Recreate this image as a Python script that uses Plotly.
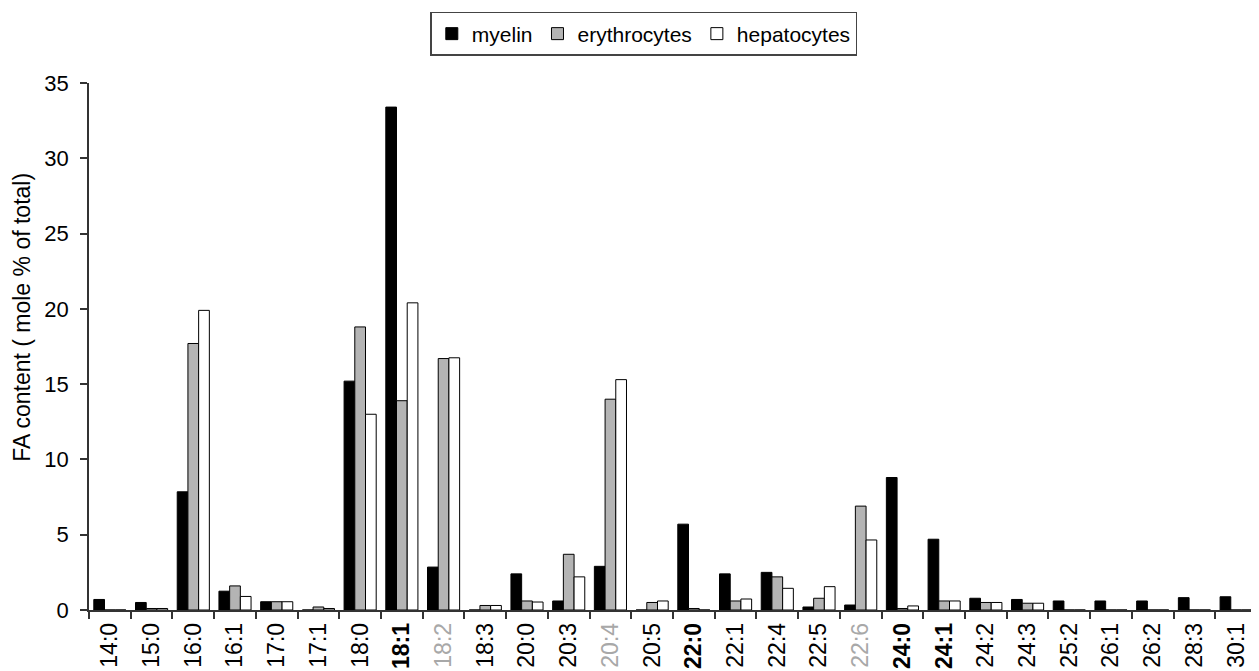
import plotly.graph_objects as go

categories = ["14:0", "15:0", "16:0", "16:1", "17:0", "17:1", "18:0", "18:1", "18:2", "18:3",
              "20:0", "20:3", "20:4", "20:5", "22:0", "22:1", "22:4", "22:5", "22:6", "24:0",
              "24:1", "24:2", "24:3", "25:2", "26:1", "26:2", "28:3", "30:1"]
myelin = [0.7, 0.5, 7.85, 1.25, 0.55, 0.0, 15.2, 33.4, 2.85, 0.0,
          2.4, 0.6, 2.9, 0.0, 5.7, 2.4, 2.5, 0.2, 0.33, 8.8,
          4.7, 0.78, 0.7, 0.6, 0.6, 0.6, 0.82, 0.88]
erythrocytes = [0.0, 0.1, 17.7, 1.6, 0.55, 0.2, 18.8, 13.9, 16.7, 0.3,
                0.6, 3.7, 14.0, 0.5, 0.1, 0.6, 2.2, 0.78, 6.9, 0.1,
                0.6, 0.5, 0.45, 0.0, 0.0, 0.0, 0.0, 0.0]
hepatocytes = [0.0, 0.1, 19.9, 0.9, 0.55, 0.1, 13.0, 20.4, 16.75, 0.3,
               0.53, 2.2, 15.3, 0.6, 0.0, 0.73, 1.44, 1.55, 4.65, 0.27,
               0.6, 0.5, 0.45, 0.0, 0.0, 0.0, 0.0, 0.0]
bold_labels = ["18:1", "22:0", "24:0", "24:1"]
gray_labels = ["18:2", "20:4", "22:6"]

def fmt(c):
    if c in bold_labels:
        return "<b>" + c + "</b>"
    if c in gray_labels:
        return "<span style='color:#a8a8a8'>" + c + "</span>"
    return c

ticktext = [fmt(c) for c in categories]

fig = go.Figure()
fig.add_trace(go.Bar(name="myelin", x=categories, y=myelin,
                     marker=dict(color="#000000", line=dict(color="#000000", width=1))))
fig.add_trace(go.Bar(name="erythrocytes", x=categories, y=erythrocytes,
                     marker=dict(color="#b4b4b4", line=dict(color="#000000", width=1))))
fig.add_trace(go.Bar(name="hepatocytes", x=categories, y=hepatocytes,
                     marker=dict(color="#ffffff", line=dict(color="#000000", width=1))))

# page body has an 8px margin, so the figure is sized/offset to compensate
fig.update_layout(
    width=1251, height=663,
    barmode="group", bargap=0.23, bargroupgap=0.0,
    plot_bgcolor="white", paper_bgcolor="white",
    font=dict(family="Liberation Sans, Arial, sans-serif", size=21, color="#000000"),
    margin=dict(l=81, r=2, t=75, b=61, autoexpand=False),
    legend=dict(orientation="h", x=0.475, xanchor="center", xref="paper",
                y=0.994, yanchor="top", yref="container",
                bordercolor="#444444", borderwidth=1.5, font=dict(size=21),
                traceorder="normal"),
    showlegend=True,
    annotations=[dict(text="FA content ( mole % of total)", textangle=-90,
                      xref="paper", yref="paper", x=-0.0575, y=0.556,
                      xanchor="center", yanchor="middle", showarrow=False,
                      font=dict(size=23))],
)
fig.update_xaxes(
    type="category", tickvals=categories, ticktext=ticktext,
    tickangle=-90, tickson="boundaries", ticks="outside", ticklen=7,
    tickcolor="#333333", tickwidth=1.5, showline=True, linecolor="#333333", linewidth=1.5,
    showgrid=False, tickfont=dict(size=23), range=[-0.5, 27.5], ticklabelstandoff=2,
)
fig.update_yaxes(
    range=[0, 35], tickvals=[0, 5, 10, 15, 20, 25, 30, 35],
    ticks="outside", ticklen=7, tickcolor="#333333", tickwidth=1.5, showline=True,
    linecolor="#333333", linewidth=1.5, showgrid=False, zeroline=False,
    tickfont=dict(size=22), ticklabelstandoff=7,
)
fig.write_html("out.html")
